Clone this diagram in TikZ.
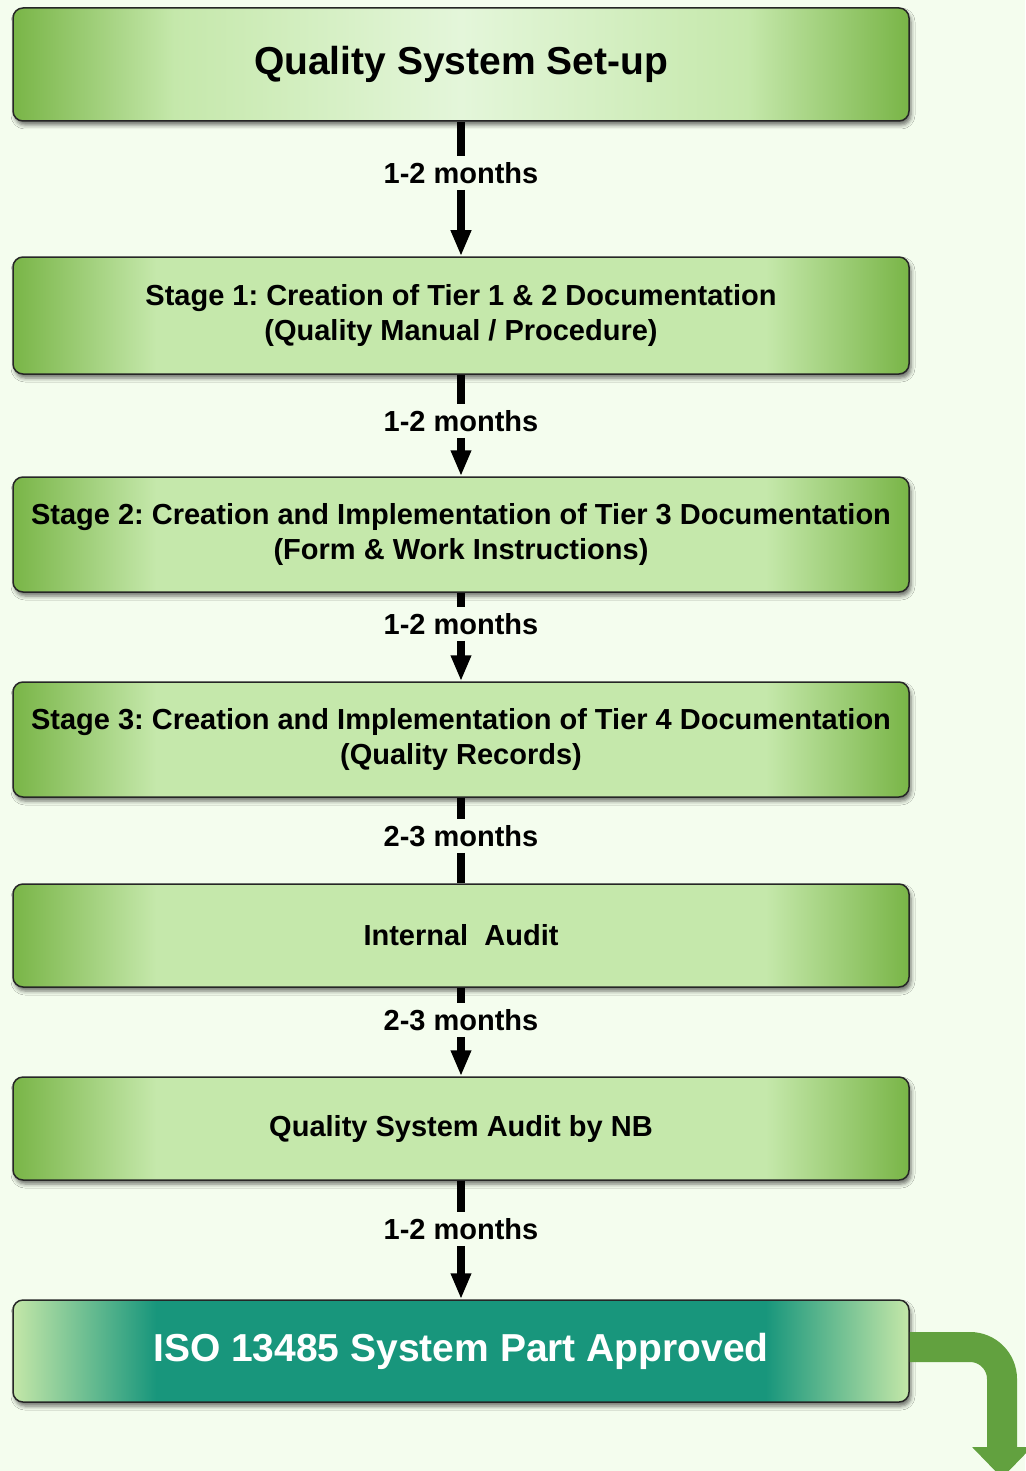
\documentclass[tikz,border=0pt]{standalone}
\usepackage{fontspec}
\setmainfont{Liberation Sans}
\usepackage{tikz}
\usetikzlibrary{arrows.meta,positioning,shadows.blur}
\frenchspacing

\definecolor{bgcol}{HTML}{F4FDEE}
\definecolor{gdark}{HTML}{79B547}
\definecolor{glight}{HTML}{C5E8AB}
\definecolor{gpale}{HTML}{E4F6DA}
\definecolor{isoteal}{HTML}{18967C}
\definecolor{isolight}{HTML}{C4E7A8}
\definecolor{bendgreen}{HTML}{62A13F}

\pgfdeclarehorizontalshading{topshade}{100bp}{color(0bp)=(gdark); color(25bp)=(gdark); color(34bp)=(glight); color(50bp)=(gpale); color(66bp)=(glight); color(75bp)=(gdark); color(100bp)=(gdark)}
\pgfdeclarehorizontalshading{stageshade}{100bp}{color(0bp)=(gdark); color(25bp)=(gdark); color(33bp)=(glight); color(67bp)=(glight); color(75bp)=(gdark); color(100bp)=(gdark)}
\pgfdeclarehorizontalshading{isoshade}{100bp}{color(0bp)=(isolight); color(25bp)=(isolight); color(33bp)=(isoteal); color(67bp)=(isoteal); color(75bp)=(isolight); color(100bp)=(isolight)}

\begin{document}
\begin{tikzpicture}[x=1pt, y=-1pt,
  box/.style={rectangle, draw=black!85, line width=1.5pt, rounded corners=10pt, minimum width=896pt, inner sep=0pt, align=center,
    blur shadow={shadow xshift=2pt, shadow yshift=-4pt, shadow blur radius=4pt, shadow opacity=55}},
  stagebox/.style={box, shading=stageshade, font=\bfseries\fontsize{29}{35}\selectfont},
  months/.style={inner xsep=0pt, inner ysep=6pt, font=\bfseries\fontsize{29}{32}\selectfont},
  link/.style={line width=7.5pt, black},
  flow/.style={link, -{Triangle[width=19pt, length=26pt]}}]

  % page and background
  \useasboundingbox (0,0) rectangle (1025,1471);
  \fill[bgcol] (0,0) rectangle (1025,1471);

  % Boxes
  \node[box, shading=topshade, minimum height=113pt, font=\bfseries\fontsize{39}{42}\selectfont] (setup) at (461,64.5) {Quality System Set-up};
  \node[stagebox, minimum height=117pt] (stage1) at (461,315.5) {Stage 1: Creation of Tier 1 \& 2 Documentation\\(Quality Manual / Procedure)};
  \node[stagebox, minimum height=115pt] (stage2) at (461,534.5) {Stage 2: Creation and Implementation of Tier 3 Documentation\\(Form \& Work Instructions)};
  \node[stagebox, minimum height=115pt] (stage3) at (461,739.5) {Stage 3: Creation and Implementation of Tier 4 Documentation\\(Quality Records)};
  \node[stagebox, minimum height=103pt] (audit) at (461,935.5) {Internal\ \ Audit};
  \node[stagebox, minimum height=103pt] (nb) at (461,1128.5) {Quality System Audit by NB};
  \node[box, shading=isoshade, minimum height=102pt, text=white, font=\bfseries\fontsize{39}{42}\selectfont] (iso) at (461,1351) {ISO 13485 System Part Approved};

  % Durations
  \node[months] (t1) at (461,173) {1-2 months};
  \node[months] (t2) at (461,421) {1-2 months};
  \node[months] (t3) at (461,624) {1-2 months};
  \node[months] (t4) at (461,836) {2-3 months};
  \node[months] (t5) at (461,1020) {2-3 months};
  \node[months] (t6) at (461,1229) {1-2 months};

  % Arrows
  \draw[link] (setup) -- (t1);
  \draw[flow] (t1) -- (stage1);
  \draw[link] (stage1) -- (t2);
  \draw[flow] (t2) -- (stage2);
  \draw[link] (stage2) -- (t3);
  \draw[flow] (t3) -- (stage3);
  \draw[link] (stage3) -- (t4);
  \draw[link] (t4) -- (audit);
  \draw[link] (audit) -- (t5);
  \draw[flow] (t5) -- (nb);
  \draw[link] (nb) -- (t6);
  \draw[flow] (t6) -- (iso);

  % Bent arrow out of the last box
  \coordinate (out) at (1002,1478);
  \draw[line width=30pt, bendgreen, rounded corners=32pt, -{Triangle[width=58pt, length=31pt]}] ([yshift=4pt]iso.east) -| (out);

\end{tikzpicture}
\end{document}
